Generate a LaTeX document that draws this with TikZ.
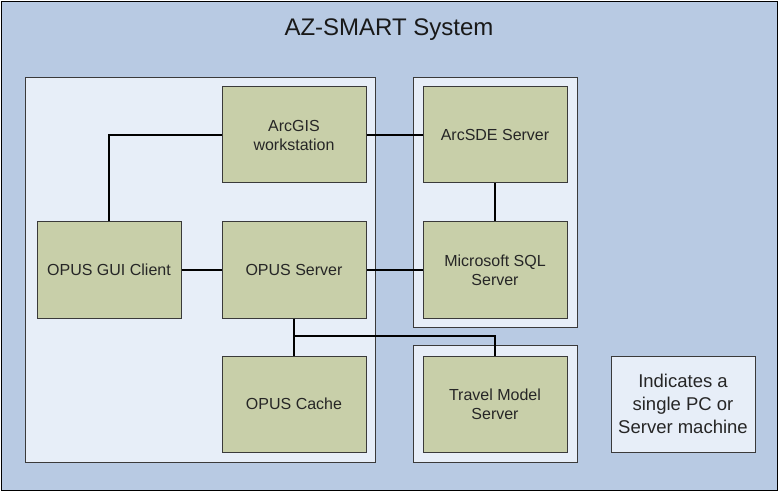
\documentclass[tikz,border=0pt]{standalone}
\usepackage{fontspec}
\setmainfont{Liberation Sans}
\definecolor{bgblue}{HTML}{B8CAE3}
\definecolor{lightbox}{HTML}{E7EEF8}
\definecolor{greenbox}{HTML}{C8CFA9}
\definecolor{edgegray}{HTML}{3A3A3A}
\begin{document}
\begin{tikzpicture}[x=1pt,y=-1pt,
  frame/.style={draw=black,line width=1.8pt,fill=bgblue},
  machine/.style={draw=edgegray,line width=1pt,fill=lightbox},
  comp/.style={draw=edgegray,line width=1pt,fill=greenbox,minimum width=144pt,minimum height=96pt,inner sep=0pt,
     font=\fontsize{16}{19}\selectfont,align=center,text=black!85},
  link/.style={draw=black,line width=1.1pt}]
\useasboundingbox (0,0) rectangle (780,492);
\draw[frame] (1.5,1.5) rectangle (777.5,490.5);
\node[font=\fontsize{24}{28}\selectfont,text=black!90] (title) at (389,30) {AZ-SMART System};
% machines
\draw[machine] (25,78) rectangle (375,462);
\draw[machine] (413,78) rectangle (577,327);
\draw[machine] (413,345) rectangle (577,462);
\node[machine,minimum width=144pt,minimum height=96pt,inner sep=0pt,align=center,
  font=\fontsize{18.5}{23}\selectfont,text=black!85] (legend) at (683,404) {Indicates a\\single PC or\\Server machine};
% components
\node[comp] (arcgis) at (294,135) {ArcGIS\\workstation};
\node[comp] (arcsde) at (495,135) {ArcSDE Server};
\node[comp] (gui) at (109,270) {OPUS GUI Client};
\node[comp] (server) at (294,270) {OPUS Server};
\node[comp] (sql) at (495,270) {Microsoft SQL\\Server};
\node[comp] (cache) at (294,404) {OPUS Cache};
\node[comp] (travel) at (495,404) {Travel Model\\Server};
% connectors
\coordinate (j) at (294,336);
\draw[link] (gui.north) |- (arcgis.west);
\draw[link] (arcgis.east) -- (arcsde.west);
\draw[link] (arcsde.south) -- (sql.north);
\draw[link] (gui.east) -- (server.west);
\draw[link] (server.east) -- (sql.west);
\draw[link] (server.south) -- (cache.north);
\draw[link] (j) -| (travel.north);
\end{tikzpicture}
\end{document}
